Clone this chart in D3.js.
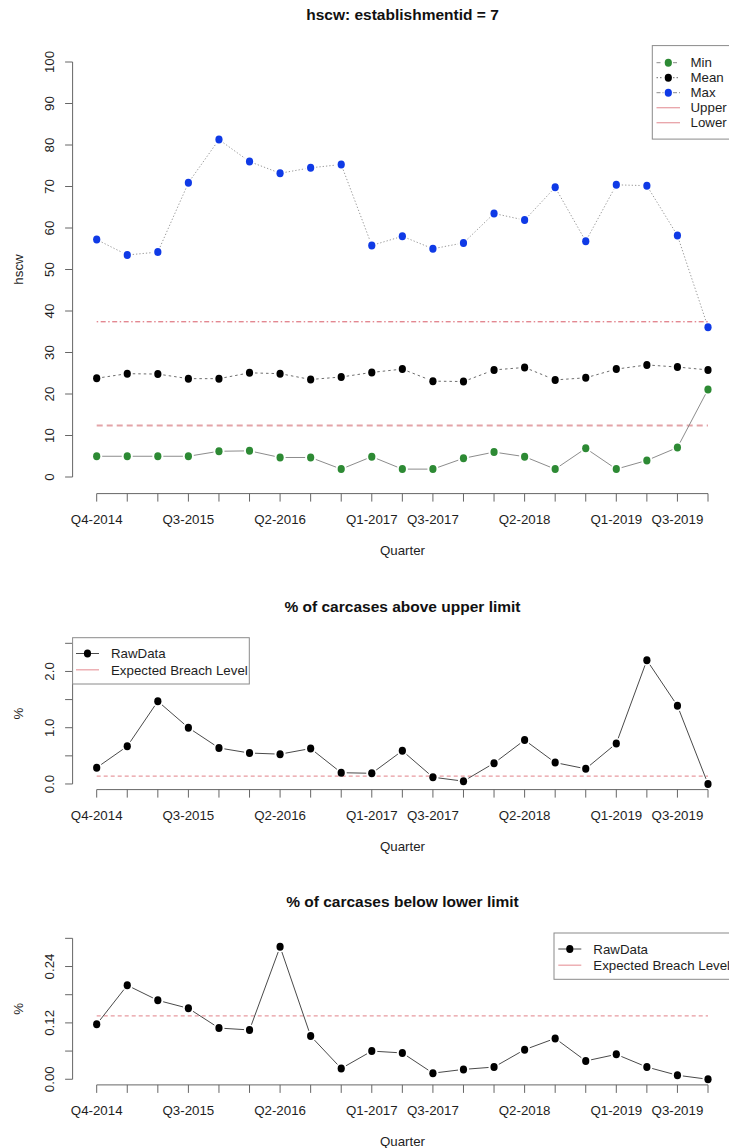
<!DOCTYPE html>
<html>
<head>
<meta charset="utf-8">
<script src="https://cdn.jsdelivr.net/npm/d3@7/dist/d3.min.js"></script>
<style>
  html, body { margin: 0; padding: 0; background: #fff; }
  svg { display: block; font-family: "Liberation Sans", Arial, Helvetica, sans-serif; }
</style>
</head>
<body>
<svg id="chart" width="729" height="1148"></svg>
<script>
// ---------------- DATA ----------------
const quarters = ["Q4-2014","Q1-2015","Q2-2015","Q3-2015","Q4-2015","Q1-2016","Q2-2016","Q3-2016",
  "Q4-2016","Q1-2017","Q2-2017","Q3-2017","Q4-2017","Q1-2018","Q2-2018","Q3-2018","Q4-2018",
  "Q1-2019","Q2-2019","Q3-2019","Q4-2019"];
const shownQuarterLabels = ["Q4-2014","Q3-2015","Q2-2016","Q1-2017","Q3-2017","Q2-2018","Q1-2019","Q3-2019"];

const minVals  = [5.0,5.0,5.0,5.0,6.2,6.3,4.7,4.7,1.9,4.9,1.9,1.9,4.5,6.0,4.9,1.9,6.9,1.9,4.0,7.1,21.1];
const meanVals = [23.8,24.9,24.8,23.7,23.7,25.1,24.9,23.5,24.1,25.2,26.0,23.1,23.0,25.8,26.4,23.4,23.9,26.0,27.0,26.5,25.8];
const maxVals  = [57.2,53.5,54.2,70.9,81.3,76.0,73.2,74.5,75.3,55.8,58.0,55.0,56.4,63.5,61.9,69.8,56.8,70.4,70.2,58.2,36.1];
const upperLimit = 37.4;
const lowerLimit = 12.4;

const abovePct = [0.29,0.67,1.47,1.00,0.64,0.55,0.53,0.63,0.20,0.19,0.59,0.12,0.05,0.37,0.78,0.38,0.27,0.72,2.20,1.39,0.00];
const expectedAbove = 0.14;
const belowPct = [0.117,0.200,0.168,0.151,0.109,0.105,0.282,0.092,0.023,0.060,0.056,0.013,0.021,0.026,0.063,0.087,0.039,0.053,0.026,0.0085,0.000];
const expectedBelow = 0.135;

const topTicks = [0,10,20,30,40,50,60,70,80,90,100];
const topTickLabels = ["0","10","20","30","40","50","60","70","80","90","100"];
const midTicks = [0,0.5,1.0,1.5,2.0,2.5];
const midTickLabels = ["0.0","","1.0","","2.0",""];
const botTicks = [0,0.06,0.12,0.18,0.24,0.30];
const botTickLabels = ["0.00","","0.12","","0.24",""];

const topLegend = ["Min","Mean","Max","Upper","Lower"];
const pctLegend = ["RawData","Expected Breach Level"];

// ---------------- STYLE / LAYOUT ----------------
const svg = d3.select("#chart");
svg.append("rect").attr("width",729).attr("height",1148).attr("fill","#fff");

const TXT = "#1e1e1e", AX = "#666";
const FS = "13.3px";
const plotLeft = 72.6, plotRight = 732.4;
const x = d3.scalePoint().domain(quarters).range([96.7, 708]);

const panels = [
  { title: "hscw: establishmentid = 7", titleY: 20, top: 45.4, bottom: 493.6, domain: [-4, 104],
    ylab: "hscw", ticks: topTicks, tickLabels: topTickLabels },
  { title: "% of carcases above upper limit", titleY: 612, top: 637.7, bottom: 789.6, domain: [-0.1, 2.6],
    ylab: "%", ticks: midTicks, tickLabels: midTickLabels },
  { title: "% of carcases below lower limit", titleY: 907, top: 932.7, bottom: 1084.9, domain: [-0.012, 0.312],
    ylab: "%", ticks: botTicks, tickLabels: botTickLabels }
];

function segmentsWithGaps(g, pts, gap, attrs) {
  for (let i = 0; i < pts.length - 1; i++) {
    const [x0,y0] = pts[i], [x1,y1] = pts[i+1];
    const dx = x1-x0, dy = y1-y0, L = Math.hypot(dx,dy);
    if (L <= 2*gap) continue;
    const ux = dx/L, uy = dy/L;
    const ln = g.append("line")
      .attr("x1", x0+ux*gap).attr("y1", y0+uy*gap)
      .attr("x2", x1-ux*gap).attr("y2", y1-uy*gap);
    for (const k in attrs) ln.attr(k, attrs[k]);
  }
}

panels.forEach(p => {
  p.y = d3.scaleLinear().domain(p.domain).range([p.bottom, p.top]);
  const g = svg.append("g");
  g.append("text").attr("x", (plotLeft+plotRight)/2).attr("y", p.titleY)
    .attr("text-anchor","middle").attr("font-weight","bold").attr("font-size","15.5px")
    .attr("fill", "#111").text(p.title);
  // x axis
  const xa = g.append("g").attr("transform", `translate(0,${p.bottom})`);
  xa.append("line").attr("x1", x(quarters[0])).attr("x2", x(quarters[quarters.length-1]))
    .attr("stroke", AX).attr("stroke-width", 1);
  xa.selectAll("line.t").data(quarters).enter().append("line").attr("class","t")
    .attr("x1", d => x(d)).attr("x2", d => x(d)).attr("y1", 0).attr("y2", 8)
    .attr("stroke", AX).attr("stroke-width", 1);
  xa.selectAll("text").data(shownQuarterLabels).enter().append("text")
    .attr("x", d => x(d)).attr("y", 30).attr("text-anchor","middle")
    .attr("font-size", FS).attr("fill", TXT).text(d => d);
  g.append("text").attr("x", (plotLeft+plotRight)/2).attr("y", p.bottom + 61)
    .attr("text-anchor","middle").attr("font-size", FS).attr("fill", TXT).text("Quarter");
  // y axis
  const ya = g.append("g").attr("transform", `translate(${plotLeft},0)`);
  ya.append("line").attr("y1", p.y(p.ticks[0])).attr("y2", p.y(p.ticks[p.ticks.length-1]))
    .attr("stroke", AX).attr("stroke-width", 1);
  ya.selectAll("line.t").data(p.ticks).enter().append("line").attr("class","t")
    .attr("y1", d => p.y(d)).attr("y2", d => p.y(d)).attr("x1", 0).attr("x2", -7.5)
    .attr("stroke", AX).attr("stroke-width", 1);
  ya.selectAll("text").data(p.ticks).enter().append("text")
    .attr("transform", d => `translate(${54 - plotLeft},${p.y(d)}) rotate(-90)`)
    .attr("text-anchor","middle").attr("font-size", FS).attr("fill", TXT)
    .text((d,i) => p.tickLabels[i]);
  g.append("text").attr("transform", `translate(23,${(p.top+p.bottom)/2}) rotate(-90)`)
    .attr("text-anchor","middle").attr("font-size", FS).attr("fill", TXT).text(p.ylab);
  p.g = g;
});

// ---------------- TOP PANEL ----------------
{
  const p = panels[0], g = p.g;
  const x0 = x(quarters[0]), x1 = x(quarters[quarters.length-1]);
  g.append("line").attr("x1", x0).attr("x2", x1).attr("y1", p.y(upperLimit)).attr("y2", p.y(upperLimit))
    .attr("stroke", "#d85a66").attr("stroke-width", 1).attr("stroke-dasharray", "1.5,2.5,5,2.5");
  g.append("line").attr("x1", x0).attr("x2", x1).attr("y1", p.y(lowerLimit)).attr("y2", p.y(lowerLimit))
    .attr("stroke", "#e3a4a8").attr("stroke-width", 2).attr("stroke-dasharray", "6,4");

  const series = [
    { vals: minVals,  color: "#2d8a34", dash: null,     lineColor: "#8c8c8c" },
    { vals: meanVals, color: "#000000", dash: "2.5,3",  lineColor: "#6e6e6e" },
    { vals: maxVals,  color: "#0f3ae6", dash: "1.3,2",  lineColor: "#9a9a9a" }
  ];
  series.forEach(s => {
    const pts = s.vals.map((v,i) => [x(quarters[i]), p.y(v)]);
    const attrs = { stroke: s.lineColor, "stroke-width": 1 };
    if (s.dash) attrs["stroke-dasharray"] = s.dash;
    segmentsWithGaps(g, pts, 5.5, attrs);
    g.selectAll(null).data(s.vals).enter().append("ellipse")
      .attr("cx", (d,i) => x(quarters[i])).attr("cy", d => p.y(d))
      .attr("rx", 3.6).attr("ry", 4).attr("fill", s.color);
  });

  // legend
  const lg = g.append("g");
  const bx = 652.3, by = 45.6, bw = plotRight - 652.3, bh = 93.5;
  lg.append("rect").attr("x", bx).attr("y", by).attr("width", bw).attr("height", bh)
    .attr("fill", "#fff").attr("stroke", "#8a8a8a").attr("stroke-width", 1);
  const ly = i => 62.7 + i*15;
  const legStyles = [
    { pt: "#2d8a34", stroke: "#8c8c8c", dash: "4,3" },
    { pt: "#000000", stroke: "#6e6e6e", dash: "1.5,2" },
    { pt: "#0f3ae6", stroke: "#8c8c8c", dash: "4,2,1.5,2" },
    { pt: null, stroke: "#e8a3a8", dash: null },
    { pt: null, stroke: "#e8a3a8", dash: null }
  ];
  topLegend.forEach((name, i) => {
    const st = legStyles[i];
    if (st.pt) {
      [[656.5,663.5],[673,680]].forEach(([a,b]) => {
        const l = lg.append("line").attr("x1", a).attr("x2", b).attr("y1", ly(i)).attr("y2", ly(i))
          .attr("stroke", st.stroke).attr("stroke-width", 1);
        if (st.dash) l.attr("stroke-dasharray", st.dash);
      });
      lg.append("ellipse").attr("cx", 668.3).attr("cy", ly(i)).attr("rx", 3.6).attr("ry", 4).attr("fill", st.pt);
    } else {
      lg.append("line").attr("x1", 656.5).attr("x2", 680).attr("y1", ly(i)).attr("y2", ly(i))
        .attr("stroke", st.stroke).attr("stroke-width", 1.3);
    }
    lg.append("text").attr("x", 690.5).attr("y", ly(i) + 4.7).attr("font-size", FS)
      .attr("fill", TXT).text(name);
  });
}

// ---------------- PERCENT PANELS ----------------
function pctPanel(p, vals, expected, legendBox) {
  const g = p.g;
  const x0 = x(quarters[0]), x1 = x(quarters[quarters.length-1]);
  g.append("line").attr("x1", x0).attr("x2", x1).attr("y1", p.y(expected)).attr("y2", p.y(expected))
    .attr("stroke", "#e79aa0").attr("stroke-width", 1.3).attr("stroke-dasharray", "4,3");
  const pts = vals.map((v,i) => [x(quarters[i]), p.y(v)]);
  segmentsWithGaps(g, pts, 5.5, { stroke: "#4a4a4a", "stroke-width": 1 });
  g.selectAll(null).data(vals).enter().append("ellipse")
    .attr("cx", (d,i) => x(quarters[i])).attr("cy", d => p.y(d))
    .attr("rx", 3.6).attr("ry", 4).attr("fill", "#000");

  const lg = g.append("g");
  const { bx, by, bw, bh, sx, tx, r0, dy } = legendBox;
  lg.append("rect").attr("x", bx).attr("y", by).attr("width", bw).attr("height", bh)
    .attr("fill", "#fff").attr("stroke", "#8a8a8a").attr("stroke-width", 1);
  lg.append("line").attr("x1", sx).attr("x2", sx + 23).attr("y1", r0).attr("y2", r0)
    .attr("stroke", "#4a4a4a").attr("stroke-width", 1);
  lg.append("ellipse").attr("cx", sx + 11.5).attr("cy", r0).attr("rx", 3.6).attr("ry", 4).attr("fill", "#000");
  lg.append("line").attr("x1", sx).attr("x2", sx + 23).attr("y1", r0 + dy).attr("y2", r0 + dy)
    .attr("stroke", "#eaa3a8").attr("stroke-width", 1.3);
  pctLegend.forEach((t, i) => {
    lg.append("text").attr("x", tx).attr("y", r0 + i*dy + 4.7).attr("font-size", FS)
      .attr("fill", TXT).text(t);
  });
}

pctPanel(panels[1], abovePct, expectedAbove,
  { bx: 72.6, by: 637.7, bw: 176.7, bh: 46.3, sx: 76, tx: 111, r0: 653.5, dy: 16.3 });
pctPanel(panels[2], belowPct, expectedBelow,
  { bx: 554, by: 933, bw: plotRight - 554, bh: 46.3, sx: 558.3, tx: 593.3, r0: 949, dy: 16.2 });
</script>
</body>
</html>
